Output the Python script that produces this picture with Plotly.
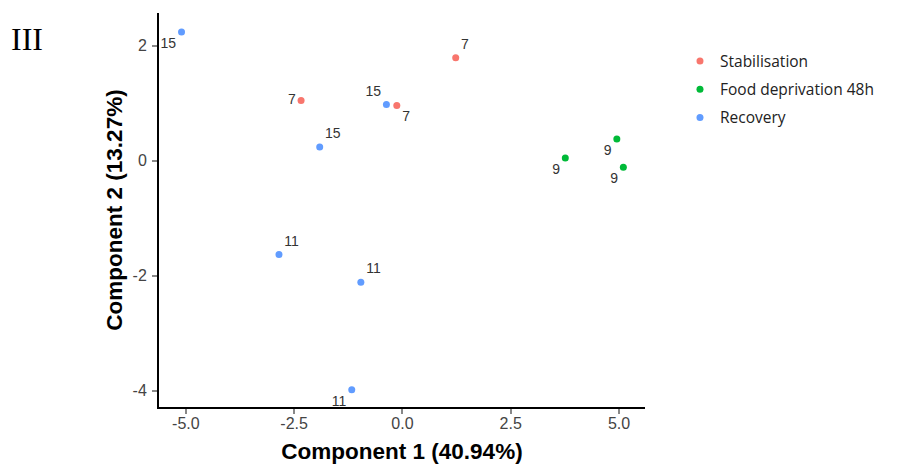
import plotly.graph_objects as go

# Data
stab_x = [-2.34, -0.13, 1.23]
stab_y = [1.05, 0.96, 1.79]
stab_lab = ["7", "7", "7"]
stab_pos = ["middle left", "bottom right", "top right"]

food_x = [3.76, 4.95, 5.10]
food_y = [0.05, 0.38, -0.11]
food_lab = ["9", "9", "9"]
food_pos = ["bottom left", "bottom left", "bottom left"]

rec_x = [-5.10, -0.37, -1.91, -2.85, -0.96, -1.17]
rec_y = [2.24, 0.98, 0.24, -1.63, -2.11, -3.98]
rec_lab = ["15", "15", "15", "11", "11", "11"]
rec_pos = ["bottom left", "top left", "top right", "top right", "top right", "bottom left"]

x_ticks = [-5.0, -2.5, 0.0, 2.5, 5.0]
x_tick_text = ["-5.0", "-2.5", "0.0", "2.5", "5.0"]
y_ticks = [-4, -2, 0, 2]
y_tick_text = ["-4", "-2", "0", "2"]

fig = go.Figure()
for name, xs, ys, labs, pos, col in [
    ("Stabilisation", stab_x, stab_y, stab_lab, stab_pos, "#F8766D"),
    ("Food deprivation 48h", food_x, food_y, food_lab, food_pos, "#00BA38"),
    ("Recovery", rec_x, rec_y, rec_lab, rec_pos, "#619CFF"),
]:
    fig.add_trace(go.Scatter(
        x=xs, y=ys, mode="markers+text", name=name, legendgroup=name,
        text=labs, textposition=pos,
        textfont=dict(family="Liberation Sans, Arial", size=14, color="#333333"),
        marker=dict(color=col, size=7),
    ))

fig.update_layout(
    width=902, height=459,
    margin=dict(l=151, r=265, t=5, b=60),
    plot_bgcolor="white", paper_bgcolor="white",
    showlegend=True,
    legend=dict(x=1.072, y=0.92, xanchor="left", yanchor="top",
                font=dict(family="Open Sans, Noto Sans", size=15.5, color="#222222"),
                tracegroupgap=5, bgcolor="rgba(0,0,0,0)"),
)
fig.add_annotation(text="III", xref="paper", yref="paper",
                   x=-0.308, y=0.934, xanchor="left", yanchor="middle",
                   showarrow=False,
                   font=dict(family="Liberation Serif, Times New Roman", size=32, color="#000000"))

fig.update_xaxes(
    range=[-5.62, 5.60], tickvals=x_ticks, ticktext=x_tick_text,
    showgrid=False, zeroline=False,
    showline=True, linecolor="#000000", linewidth=2,
    ticks="outside", ticklen=5, tickcolor="#888888", tickwidth=1.5,
    ticklabelstandoff=-4,
    tickfont=dict(family="Liberation Sans, Arial", size=16, color="#444444"),
    title=dict(text="<b>Component 1 (40.94%)</b>", standoff=12,
               font=dict(family="Liberation Sans, Arial", size=22.5, color="#000000")),
)
fig.update_yaxes(
    range=[-4.28, 2.57], tickvals=y_ticks, ticktext=y_tick_text,
    showgrid=False, zeroline=False,
    showline=True, linecolor="#000000", linewidth=2,
    ticks="outside", ticklen=5, tickcolor="#888888", tickwidth=1.5,
    ticklabelstandoff=2,
    tickfont=dict(family="Liberation Sans, Arial", size=16, color="#444444"),
    title=dict(text="<b>Component 2 (13.27%)</b>", standoff=4,
               font=dict(family="Liberation Sans, Arial", size=22.5, color="#000000")),
)

fig.write_html("out.html")
